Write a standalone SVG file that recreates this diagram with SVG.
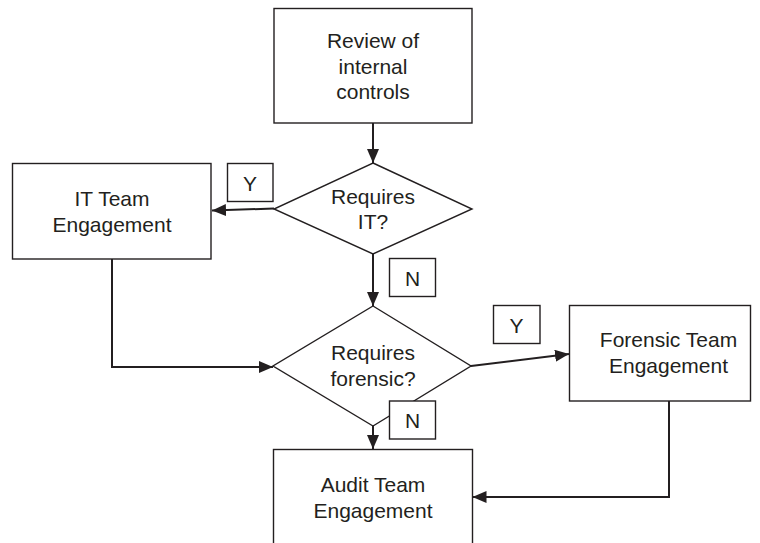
<svg xmlns="http://www.w3.org/2000/svg" width="760" height="543" viewBox="0 0 760 543">
<defs>
<style>
.box{fill:#fff;stroke:#231f20;stroke-width:1.4}
.lbl{fill:#fff;stroke:#231f20;stroke-width:1.4}
.t{font-family:"Liberation Sans",Arial,sans-serif;font-size:21px;fill:#231f20;text-anchor:middle}
.c{fill:none;stroke:#231f20;stroke-width:2}
</style>
<marker id="ah" markerUnits="userSpaceOnUse" markerWidth="14" markerHeight="12" viewBox="0 0 14 12" refX="14" refY="6" orient="auto">
<path d="M0,0 L14,6 L0,12 Z" fill="#231f20"/>
</marker>
</defs>
<rect width="760" height="543" fill="#fff"/>
<g id="connectors">
<line class="c" x1="373" y1="123" x2="373" y2="163" marker-end="url(#ah)"/>
<line class="c" x1="274" y1="208.5" x2="212" y2="210.5" marker-end="url(#ah)"/>
<line class="c" x1="373" y1="254" x2="373" y2="306" marker-end="url(#ah)"/>
<polyline class="c" points="112,259 112,367 273,367" marker-end="url(#ah)"/>
<line class="c" x1="471" y1="366" x2="569" y2="354" marker-end="url(#ah)"/>
<line class="c" x1="373" y1="426" x2="373" y2="449" marker-end="url(#ah)"/>
<polyline class="c" points="669,401 669,497 472.5,497" marker-end="url(#ah)"/>
</g>
<g id="review">
<rect class="box" x="274" y="8.5" width="198" height="114.5"/>
<text class="t" x="373" y="48">Review of</text>
<text class="t" x="373" y="73.5">internal</text>
<text class="t" x="373" y="99">controls</text>
</g>
<g id="requires-it">
<polygon class="box" points="373,163 472,209 373,254 274,209"/>
<text class="t" x="373" y="204">Requires</text>
<text class="t" x="373" y="229">IT?</text>
</g>
<g id="it-team">
<rect class="box" x="12.5" y="163.5" width="198.5" height="95.5"/>
<text class="t" x="112" y="205.5">IT Team</text>
<text class="t" x="112" y="232">Engagement</text>
</g>
<g id="label-y1">
<rect class="lbl" x="227.5" y="163.5" width="45.5" height="38"/>
<text class="t" x="250" y="191">Y</text>
</g>
<g id="label-n1">
<rect class="lbl" x="389.5" y="258.5" width="46" height="38"/>
<text class="t" x="412.5" y="285.5">N</text>
</g>
<g id="requires-forensic">
<polygon class="box" points="373,306 471,366 373,426 273,366"/>
<text class="t" x="373" y="360">Requires</text>
<text class="t" x="373" y="386">forensic?</text>
</g>
<g id="label-y2">
<rect class="lbl" x="493.5" y="305.5" width="46.5" height="38"/>
<text class="t" x="516.5" y="332.5">Y</text>
</g>
<g id="forensic-team">
<rect class="box" x="569.5" y="305.5" width="181" height="95.5"/>
<text class="t" x="668.5" y="347">Forensic Team</text>
<text class="t" x="668.5" y="373">Engagement</text>
</g>
<g id="label-n2">
<rect class="lbl" x="389.5" y="401" width="46" height="38"/>
<text class="t" x="412.5" y="428">N</text>
</g>
<g id="audit-team">
<rect class="box" x="273.5" y="449.5" width="199" height="100"/>
<text class="t" x="373" y="491.5">Audit Team</text>
<text class="t" x="373" y="517.5">Engagement</text>
</g>
</svg>
